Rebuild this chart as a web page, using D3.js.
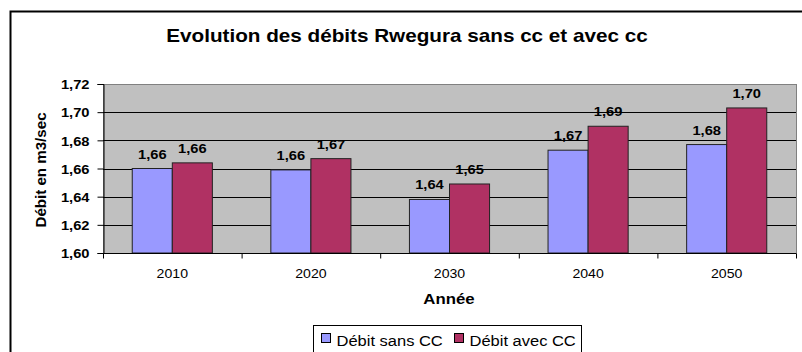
<!DOCTYPE html>
<html>
<head>
<meta charset="utf-8">
<script src="https://cdn.jsdelivr.net/npm/d3@7"></script>
<style>
  html, body { margin: 0; padding: 0; background: #fff; }
  svg { display: block; font-family: "Liberation Sans", Arial, sans-serif; }
</style>
</head>
<body>
<svg id="chart" width="802" height="352"></svg>
<script>
// Annual flow of the Rwegura, without and with climate change
const years = ["2010", "2020", "2030", "2040", "2050"];
const debitSansCC = [1.660, 1.659, 1.638, 1.673, 1.677];
const debitAvecCC = [1.664, 1.667, 1.649, 1.690, 1.703];
const seriesNames = ["Débit sans CC", "Débit avec CC"];
const seriesColors = ["#9999FF", "#B03163"];
const yTicks = [1.60, 1.62, 1.64, 1.66, 1.68, 1.70, 1.72];

const svg = d3.select("#chart");
const frac = d3.format(".2f");
const fr = v => frac(v).replace(".", ",");

// text is drawn slightly wide, like the original worksheet chart
const SX = 1.13;
function label(parent, x, y, txt, opts = {}) {
  const rot = opts.rotate ? ` rotate(${opts.rotate})` : "";
  return parent.append("text")
    .attr("transform", `translate(${x},${y})${rot} scale(${opts.sx || SX},1)`)
    .attr("text-anchor", opts.anchor || "middle")
    .attr("font-size", opts.size || "12px")
    .attr("font-weight", opts.bold ? "bold" : "normal")
    .attr("fill", "#000")
    .text(txt);
}

// outer chart frame
svg.append("rect")
  .attr("x", 10.5).attr("y", 11.5)
  .attr("width", 800).attr("height", 360)
  .attr("fill", "#fff").attr("stroke", "#000").attr("stroke-width", 2);

const plot = { left: 103, top: 84, right: 796, bottom: 253 };

const x = d3.scaleBand().domain(years).range([plot.left, plot.right]);
const x1 = d3.scaleBand().domain([0, 1]).range([0, x.bandwidth()]).paddingInner(0).paddingOuter(0.73);
const y = d3.scaleLinear().domain([1.60, 1.72]).range([plot.bottom, plot.top]);

// plot background
svg.append("rect")
  .attr("x", plot.left + 0.5).attr("y", plot.top + 0.5)
  .attr("width", plot.right - plot.left).attr("height", plot.bottom - plot.top)
  .attr("fill", "#C0C0C0").attr("stroke", "#808080").attr("stroke-width", 1);

// horizontal gridlines
svg.append("g").selectAll("line")
  .data(yTicks.slice(1, -1))
  .join("line")
  .attr("x1", plot.left).attr("x2", plot.right)
  .attr("y1", d => Math.round(y(d)) + 0.5).attr("y2", d => Math.round(y(d)) + 0.5)
  .attr("stroke", "#000").attr("stroke-width", 1);

// bars
const series = [debitSansCC, debitAvecCC];
const groups = svg.append("g").selectAll("g")
  .data(series)
  .join("g");

groups.selectAll("rect")
  .data((vals, si) => vals.map((v, i) => ({ v, i, si })))
  .join("rect")
  .attr("x", d => x(years[d.i]) + x1(d.si))
  .attr("y", d => y(d.v))
  .attr("width", x1.bandwidth())
  .attr("height", d => y(1.60) - y(d.v))
  .attr("fill", d => seriesColors[d.si])
  .attr("stroke", "#222").attr("stroke-width", 1);

// value labels above bars
series.forEach((vals, si) => {
  vals.forEach((v, i) => {
    label(svg, x(years[i]) + x1(si) + x1.bandwidth() / 2, y(v) - 10, fr(v),
      { size: "13px", bold: true });
  });
});

// y axis
const yAxis = svg.append("g")
  .attr("transform", `translate(${plot.left + 0.5},0)`)
  .call(d3.axisLeft(y).tickValues(yTicks).tickSize(6).tickPadding(8).tickFormat(fr));
yAxis.select(".domain").attr("stroke", "#000");
yAxis.selectAll(".tick line").attr("stroke", "#000");
yAxis.selectAll("text")
  .attr("font-size", "13px").attr("font-weight", "bold").attr("fill", "#000")
  .attr("font-family", "Liberation Sans, Arial, sans-serif")
  .attr("x", -14 / SX).attr("dy", "0.36em")
  .attr("transform", `scale(${SX},1)`);

// x axis with ticks between categories
const xAxis = svg.append("g")
  .attr("transform", `translate(0,${plot.bottom + 0.5})`);
xAxis.append("line")
  .attr("x1", plot.left).attr("x2", plot.right)
  .attr("stroke", "#000");
xAxis.selectAll("line.tk")
  .data(years.map(d => x(d)).concat([plot.right]))
  .join("line").attr("class", "tk")
  .attr("x1", d => d + 0.5).attr("x2", d => d + 0.5)
  .attr("y1", 0).attr("y2", 5)
  .attr("stroke", "#000");
years.forEach(d => {
  label(xAxis, x(d) + x.bandwidth() / 2, 24, d, { size: "12.5px" });
});

// title
label(svg, 407, 42, "Evolution des débits Rwegura sans cc et avec cc",
  { size: "18px", bold: true, sx: 1.15 });

// axis titles
label(svg, 449, 304, "Année", { size: "14px", bold: true, sx: 1.2 });
label(svg, 45.5, 170, "Débit en m3/sec", { size: "14px", bold: true, rotate: -90, sx: 1.08 });

// legend
const legend = svg.append("g");
legend.append("rect")
  .attr("x", 313.5).attr("y", 325.5)
  .attr("width", 268).attr("height", 40)
  .attr("fill", "#fff").attr("stroke", "#000");
[321, 454].forEach((lx, i) => {
  legend.append("rect")
    .attr("x", lx + 0.5).attr("y", 333.5)
    .attr("width", 9).attr("height", 9)
    .attr("fill", seriesColors[i]).attr("stroke", "#000");
  label(legend, lx + 15.5, 345.5, seriesNames[i], { size: "15px", anchor: "start", sx: 1.1 });
});
</script>
</body>
</html>
